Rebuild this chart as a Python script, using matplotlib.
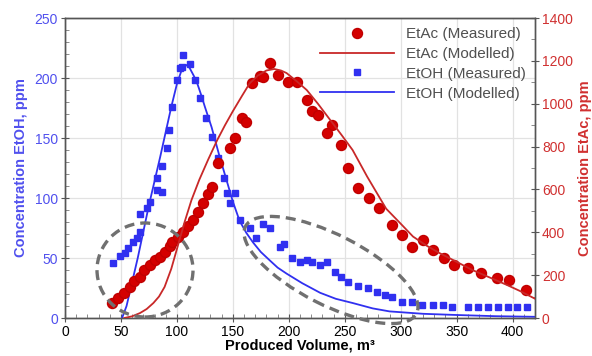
import matplotlib
matplotlib.use("Agg")
import matplotlib.pyplot as plt
import matplotlib.transforms as mtransforms
from matplotlib.patches import Ellipse
from matplotlib.ticker import MultipleLocator

plt.rcParams['font.family'] = ['Liberation Sans', 'DejaVu Sans']

# ---- data ----
etoh_meas_x = [43, 49, 54, 56, 61, 64, 67, 67, 73, 76, 82, 87, 82, 87, 91, 93, 96, 100, 103, 105, 104.5,
               112, 116, 121, 126, 131, 137, 142, 145, 147, 152, 156, 165, 171, 177, 183, 192, 196,
               203, 210, 216, 221, 228, 234, 241, 247, 253, 262, 271, 279, 286, 292, 301, 310, 319,
               329, 338, 346, 360, 369, 378, 387, 396, 404, 413]
etoh_meas_y = [46, 52, 54, 58, 63, 67, 72, 87, 92, 97, 107, 105, 117, 127, 142, 157, 176, 198, 208, 219, 209,
               212, 198, 183, 167, 151, 133, 117, 104, 96, 104, 82, 75, 67, 78, 75, 59, 62,
               50, 47, 48, 47, 44, 47, 38, 34, 30, 27, 25, 22, 19, 17.5, 13, 13, 11,
               11, 11, 9, 9, 9, 9, 9, 9, 9, 9]

etac_meas_x = [42, 47, 53, 58, 62, 67, 71, 76, 80, 85, 89, 94, 96, 101, 105, 110, 114, 119, 123, 128, 131,
               137, 147, 152, 158, 162, 167, 174, 177, 183, 190, 199, 207, 216, 221, 226, 239, 234,
               247, 253, 262, 272, 281, 292, 301, 310, 320, 329, 339, 348, 360, 372, 386, 397, 412]
etac_meas_y = [70, 93, 117, 145, 173, 191, 224, 247, 271, 285, 308, 336, 355, 378, 401, 429, 457, 495, 537, 579, 611,
               723, 793, 840, 933, 915, 1097, 1129, 1125, 1190, 1134, 1101, 1101, 1017, 966, 947, 901, 863,
               807, 700, 607, 560, 513, 434, 387, 331, 364, 317, 280, 247, 233, 210, 187, 177, 131]

etoh_model_x = [51, 55, 60, 65, 70, 75, 80, 85, 90, 95, 100, 104, 108, 111, 115, 118, 122, 125, 131, 138,
                144, 150, 156, 162, 168, 175, 183, 190, 198, 212, 228, 242, 257, 275, 290, 320, 350, 385, 420]
etoh_model_y = [0, 10, 30, 50, 72, 94, 114, 134, 155, 176, 195, 206, 211, 209, 202, 196, 185, 176, 159, 135,
                116, 97, 81, 71, 63, 55, 48, 42, 37, 29, 21, 16, 12.5, 8, 5.5, 3.5, 2.5, 1.5, 1]

etac_model_x = [53, 60, 67, 73, 79, 84, 89, 95, 101, 107, 113, 120, 128, 136, 143, 150, 158, 165, 172, 180,
                187, 193, 198, 207, 216, 226, 237, 247, 257, 270, 287, 300, 311, 323, 335, 350, 364, 380,
                395, 407, 420]
etac_model_y = [0, 8, 23, 42, 70, 100, 145, 230, 340, 450, 550, 645, 740, 830, 900, 965, 1035, 1095, 1130, 1155,
                1162, 1155, 1143, 1105, 1064, 1000, 924, 855, 784, 660, 510, 440, 380, 338, 302, 262, 224, 188,
                154, 125, 90]

x_ticks = [0, 50, 100, 150, 200, 250, 300, 350, 400]
left_ticks = [0, 50, 100, 150, 200, 250]
right_ticks = [0, 200, 400, 600, 800, 1000, 1200, 1400]

BLUE = '#3030f0'
RED = '#d40000'
BLUE_TXT = '#5050ee'
RED_TXT = '#d03030'

fig = plt.figure(figsize=(5.92, 3.56), dpi=100)
ax = fig.add_axes([65/592, 38/356, 470/592, 300/356])
ax2 = ax.twinx()

ax.set_xlim(0, 420)
ax.set_ylim(0, 250)
ax2.set_ylim(0, 1400)

ax.grid(True, color='#e2e2e2', lw=0.9, zorder=0)
ax.set_axisbelow(True)

l_bm, = ax.plot(etoh_model_x, etoh_model_y, color=BLUE, lw=1.3, zorder=3)
l_bs, = ax.plot(etoh_meas_x, etoh_meas_y, ls='none', marker='s', ms=4.8, color=BLUE, zorder=4)
l_rm, = ax2.plot(etac_model_x, etac_model_y, color='#c82828', lw=1.3, zorder=3)
l_rs, = ax2.plot(etac_meas_x, etac_meas_y, ls='none', marker='o', ms=7.2, color=RED,
                 markeredgecolor='#c00000', zorder=2)

ax.set_xticks(x_ticks)
ax.set_yticks(left_ticks)
ax2.set_yticks(right_ticks)
ax.xaxis.set_minor_locator(MultipleLocator(10))
ax.yaxis.set_minor_locator(MultipleLocator(10))
ax2.yaxis.set_minor_locator(MultipleLocator(100))

for a in (ax, ax2):
    for s in a.spines.values():
        s.set_color('#555555')
        s.set_linewidth(1.0)
ax.tick_params(axis='x', which='major', direction='inout', length=6, color='#555555', labelsize=10, pad=2)
ax.tick_params(axis='x', which='minor', direction='in', length=3, color='#777777')
ax.tick_params(axis='y', which='major', direction='inout', length=6, color='#555555', labelsize=10,
               labelcolor=BLUE_TXT, pad=2)
ax.tick_params(axis='y', which='minor', direction='in', length=3, color='#777777')
ax2.tick_params(axis='y', which='major', direction='inout', length=6, color='#555555', labelsize=10,
                labelcolor=RED_TXT, pad=2)
ax2.tick_params(axis='y', which='minor', direction='in', length=3, color='#777777')

ax.set_xlabel('Produced Volume, m³', fontsize=10.5, fontweight='bold', labelpad=0)
ax.set_ylabel('Concentration EtOH, ppm', fontsize=10.5, fontweight='bold', color=BLUE_TXT, labelpad=5)
ax2.set_ylabel('Concentration EtAc, ppm', fontsize=10.5, fontweight='bold', color=RED_TXT, labelpad=4)

# dashed ellipses in axes-pixel coordinates
tr = mtransforms.Affine2D().scale(1/470, 1/300) + ax.transAxes
e1 = Ellipse((80, 48), 96, 94, angle=0, transform=tr, fill=False, ec='#707070', lw=2.4,
             ls=(0, (3, 1.8)), zorder=6, clip_on=False)
e2 = Ellipse((266, 48), 192, 70, angle=-27, transform=tr, fill=False, ec='#707070', lw=2.4,
             ls=(0, (3, 1.8)), zorder=6, clip_on=False)
ax2.add_patch(e1)
ax2.add_patch(e2)

leg = ax2.legend([l_rs, l_rm, l_bs, l_bm],
                 ['EtAc (Measured)', 'EtAc (Modelled)', 'EtOH (Measured)', 'EtOH (Modelled)'],
                 loc='upper right', frameon=False, fontsize=11, handlelength=4.8, numpoints=1,
                 labelspacing=0.38, borderaxespad=0.2, handletextpad=0.8)
for t in leg.get_texts():
    t.set_color('#505050')

fig.savefig('out.png', dpi=100)
